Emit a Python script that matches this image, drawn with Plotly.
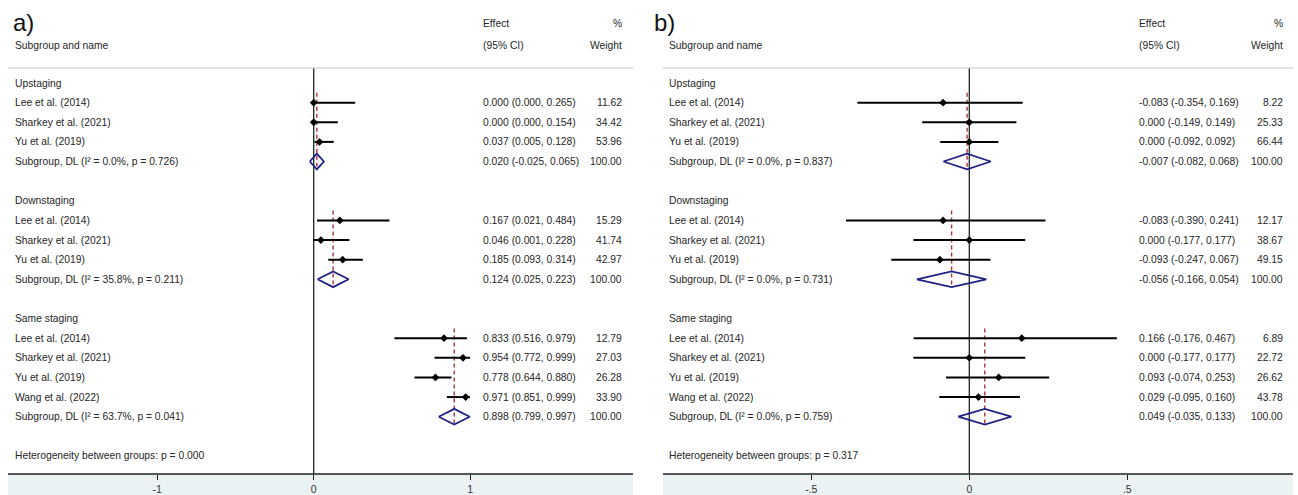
import plotly.graph_objects as go

# ---------------- data ----------------
group_names = ["Upstaging", "Downstaging", "Same staging"]
study_names = [
    ["Lee et al. (2014)", "Sharkey et al. (2021)", "Yu et al. (2019)"],
    ["Lee et al. (2014)", "Sharkey et al. (2021)", "Yu et al. (2019)"],
    ["Lee et al. (2014)", "Sharkey et al. (2021)", "Yu et al. (2019)", "Wang et al. (2022)"],
]

# panel a)
a_est = [[0.000, 0.000, 0.037], [0.167, 0.046, 0.185], [0.833, 0.954, 0.778, 0.971]]
a_lo = [[0.000, 0.000, 0.005], [0.021, 0.001, 0.093], [0.516, 0.772, 0.644, 0.851]]
a_hi = [[0.265, 0.154, 0.128], [0.484, 0.228, 0.314], [0.979, 0.999, 0.880, 0.999]]
a_wt = [[11.62, 34.42, 53.96], [15.29, 41.74, 42.97], [12.79, 27.03, 26.28, 33.90]]
a_pool_est = [0.020, 0.124, 0.898]
a_pool_lo = [-0.025, 0.025, 0.799]
a_pool_hi = [0.065, 0.223, 0.997]
a_i2 = [0.0, 35.8, 63.7]
a_p = [0.726, 0.211, 0.041]
a_het_p = 0.000
a_tickvals = [-1, 0, 1]
a_ticktext = ["-1", "0", "1"]

# panel b)
b_est = [[-0.083, 0.000, 0.000], [-0.083, 0.000, -0.093], [0.166, 0.000, 0.093, 0.029]]
b_lo = [[-0.354, -0.149, -0.092], [-0.390, -0.177, -0.247], [-0.176, -0.177, -0.074, -0.095]]
b_hi = [[0.169, 0.149, 0.092], [0.241, 0.177, 0.067], [0.467, 0.177, 0.253, 0.160]]
b_wt = [[8.22, 25.33, 66.44], [12.17, 38.67, 49.15], [6.89, 22.72, 26.62, 43.78]]
b_pool_est = [-0.007, -0.056, 0.049]
b_pool_lo = [-0.082, -0.166, -0.035]
b_pool_hi = [0.068, 0.054, 0.133]
b_i2 = [0.0, 0.0, 0.0]
b_p = [0.837, 0.731, 0.759]
b_het_p = 0.317
b_tickvals = [-0.5, 0, 0.5]
b_ticktext = ["-.5", "0", ".5"]

# ---------------- layout constants ----------------
W, H = 1298, 495
ROW0_PX, ROW_PX, PLOT_BOTTOM_PX = 83, 19.63, 474
FONT = "Liberation Sans, Arial, sans-serif"
FS = 10.3
TXT = "#262626"
NAVY = "#1f2185"
RED = "#a8343a"


def prow(py):
    return (py - ROW0_PX) / ROW_PX


def pxx(px):
    return px / W


def pxy(py):
    return 1 - py / H


panels = [
    dict(xa="x", dom=(0, 649), zero=313.7, unit=156.5, left=8, right=633,
         name_x=13, eff_x=481, wt_x=624, lab="a)", lab_x=11,
         est=a_est, lo=a_lo, hi=a_hi, wt=a_wt, pest=a_pool_est, plo=a_pool_lo,
         phi=a_pool_hi, i2=a_i2, p=a_p, het=a_het_p, tv=a_tickvals, tt=a_ticktext),
    dict(xa="x2", dom=(649, 1298), zero=969.3, unit=316.0, left=663, right=1293,
         name_x=667, eff_x=1137, wt_x=1285, lab="b)", lab_x=652,
         est=b_est, lo=b_lo, hi=b_hi, wt=b_wt, pest=b_pool_est, plo=b_pool_lo,
         phi=b_pool_hi, i2=b_i2, p=b_p, het=b_het_p, tv=b_tickvals, tt=b_ticktext),
]

fig = go.Figure()
annotations = []
shapes = []


def ann(text, x_px, y, yref="y", anchor="left", size=FS, color=TXT):
    annotations.append(dict(text=text, x=pxx(x_px), xref="paper", y=y, yref=yref,
                            xanchor=anchor, yanchor="middle", showarrow=False,
                            font=dict(family=FONT, size=size, color=color)))


for P in panels:
    xa = P["xa"]
    ci_x, ci_y, pt_x, pt_y = [], [], [], []
    dm_x, dm_y, da_x, da_y = [], [], [], []
    r = 0
    for gi, names in enumerate(study_names):
        ann(group_names[gi], P["name_x"], r)
        first = r + 1
        for si, nm in enumerate(names):
            rr = r + 1 + si
            e, lo, hi, w = P["est"][gi][si], P["lo"][gi][si], P["hi"][gi][si], P["wt"][gi][si]
            ci_x += [lo, hi, None]
            ci_y += [rr, rr, None]
            pt_x.append(e)
            pt_y.append(rr)
            ann(nm, P["name_x"], rr)
            ann(f"{e:.3f} ({lo:.3f}, {hi:.3f})", P["eff_x"], rr)
            ann(f"{w:.2f}", P["wt_x"], rr, anchor="right")
        sr = r + 1 + len(names)
        pe, pl, ph = P["pest"][gi], P["plo"][gi], P["phi"][gi]
        dm_x += [pl, pe, ph, pe, pl, None]
        dm_y += [sr, sr - 0.4, sr, sr + 0.4, sr, None]
        da_x += [pe, pe, None]
        da_y += [first - 0.5, sr + 0.42, None]
        ann(f"Subgroup, DL (I² = {P['i2'][gi]:.1f}%, p = {P['p'][gi]:.3f})",
            P["name_x"], sr)
        ann(f"{pe:.3f} ({pl:.3f}, {ph:.3f})", P["eff_x"], sr)
        ann("100.00", P["wt_x"], sr, anchor="right")
        r = sr + 2
    ann(f"Heterogeneity between groups: p = {P['het']:.3f}", P["name_x"], r)

    # dashed pooled lines
    fig.add_trace(go.Scatter(x=da_x, y=da_y, xaxis=xa, yaxis="y", mode="lines",
                             line=dict(color=RED, width=1.4, dash="4px,3px"),
                             hoverinfo="skip", showlegend=False))
    fig.add_trace(go.Scatter(x=ci_x, y=ci_y, xaxis=xa, yaxis="y", mode="lines",
                             line=dict(color="black", width=2), hoverinfo="skip",
                             showlegend=False))
    fig.add_trace(go.Scatter(x=pt_x, y=pt_y, xaxis=xa, yaxis="y", mode="markers",
                             marker=dict(symbol="diamond", size=6, color="black"),
                             hoverinfo="skip", showlegend=False))
    fig.add_trace(go.Scatter(x=dm_x, y=dm_y, xaxis=xa, yaxis="y", mode="lines",
                             line=dict(color=NAVY, width=1.8), hoverinfo="skip",
                             showlegend=False))

    # headers
    ann(P["lab"], P["lab_x"], pxy(23), yref="paper", size=24, color="#111")
    ann("Subgroup and name", P["name_x"], pxy(45), yref="paper")
    ann("Effect", P["eff_x"], pxy(24), yref="paper")
    ann("(95% CI)", P["eff_x"], pxy(45), yref="paper")
    ann("%", P["wt_x"], pxy(24), yref="paper", anchor="right")
    ann("Weight", P["wt_x"], pxy(45), yref="paper", anchor="right")

    # header rule
    shapes.append(dict(type="line", xref="paper", yref="paper",
                       x0=pxx(P["left"]), x1=pxx(P["right"]), y0=pxy(68), y1=pxy(68),
                       line=dict(color="#c4c4c4", width=1.2)))
    # bottom band
    shapes.append(dict(type="rect", xref="paper", yref="paper", layer="below",
                       x0=pxx(P["left"]), x1=pxx(P["right"]), y0=0, y1=pxy(PLOT_BOTTOM_PX),
                       line=dict(width=0), fillcolor="#eaf2f3"))
    # axis line
    shapes.append(dict(type="line", xref="paper", yref="paper",
                       x0=pxx(P["left"]), x1=pxx(P["right"]),
                       y0=pxy(PLOT_BOTTOM_PX), y1=pxy(PLOT_BOTTOM_PX),
                       line=dict(color="#222", width=1.3)))
    # null line
    shapes.append(dict(type="line", xref=xa, yref="paper", x0=0, x1=0,
                       y0=pxy(68), y1=pxy(PLOT_BOTTOM_PX),
                       line=dict(color="#222", width=1.3), layer="below"))

    d0, d1 = P["dom"]
    axis = dict(domain=[d0 / W, d1 / W],
                range=[(d0 - P["zero"]) / P["unit"], (d1 - P["zero"]) / P["unit"]],
                showgrid=False, zeroline=False, showline=False, anchor="y",
                ticks="outside", ticklen=5, tickwidth=1.3, tickcolor="#222",
                tickvals=P["tv"], ticktext=P["tt"],
                tickfont=dict(family=FONT, size=10.5, color="#333"), fixedrange=True)
    if xa == "x":
        fig.update_layout(xaxis=axis)
    else:
        fig.update_layout(xaxis2=axis)

fig.update_layout(
    width=W, height=H,
    margin=dict(l=0, r=0, t=0, b=0),
    paper_bgcolor="white", plot_bgcolor="white",
    showlegend=False,
    yaxis=dict(domain=[(H - PLOT_BOTTOM_PX) / H, 1],
               range=[prow(PLOT_BOTTOM_PX), prow(0)],
               visible=False, fixedrange=True),
    annotations=annotations,
    shapes=shapes,
)

fig.write_html(
    "out.html",
    config={"displayModeBar": False},
    post_script="document.body.style.margin='0px';document.body.style.overflow='hidden';",
)
